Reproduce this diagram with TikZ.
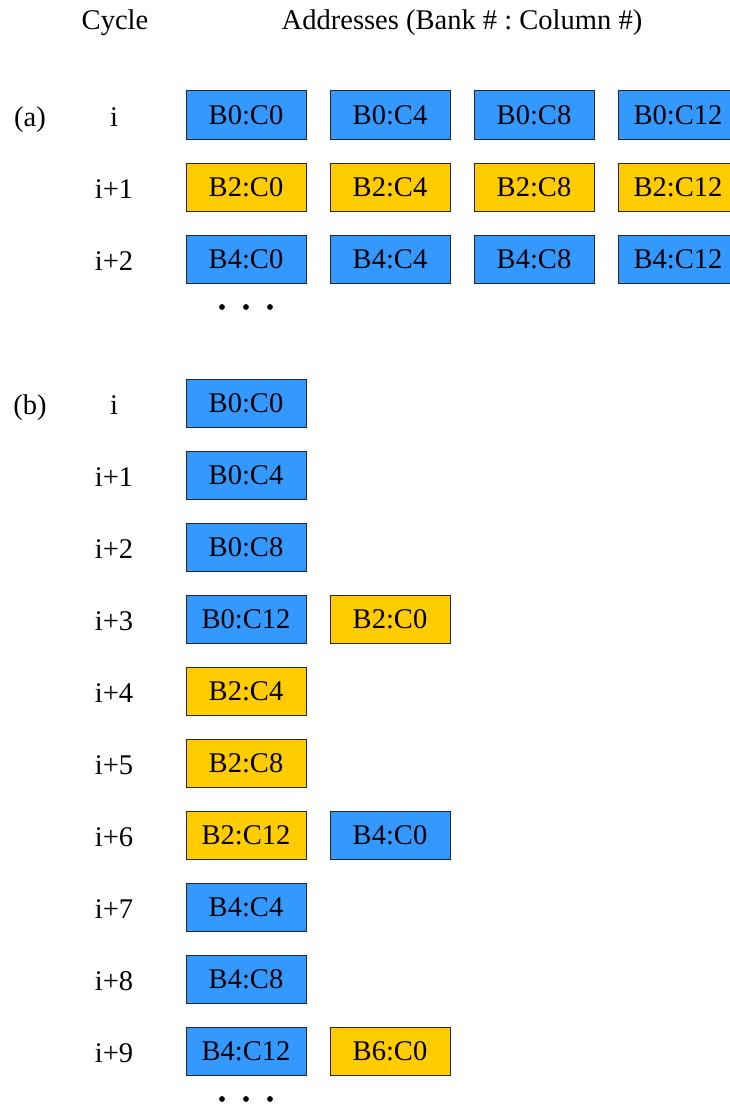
\documentclass[tikz,border=0pt]{standalone}
\usepackage{fontspec}
\setmainfont{Liberation Serif}
\definecolor{bankblue}{RGB}{51,153,255}
\definecolor{bankyellow}{RGB}{255,204,0}
\tikzset{every picture/.style={line width=0.75pt}}
\frenchspacing

\begin{document}
\begin{tikzpicture}[x=0.75pt,y=0.75pt,yscale=-1,xscale=1,
  font=\fontsize{21.4}{25}\selectfont,
  bbox/.style={draw=black!85,line width=0.75pt,minimum width=90pt,minimum height=36pt,inner sep=0pt,anchor=center},
  bblue/.style={bbox,fill=bankblue},
  byellow/.style={bbox,fill=bankyellow},
  lbl/.style={anchor=base,inner sep=0.75pt}]
\useasboundingbox (0,0) rectangle (730,1106);
\clip (0,0) rectangle (730,1106);

% Headers
\node [lbl] (hcyc) at (115,30) {Cycle};
\node [lbl] (haddr) at (462,30) {Addresses (Bank \# : Column \#)};

%(a) ---------------------------------------------
\node [lbl] (pa) at (30,126) {(a)};
\node [lbl] (ca0) at (114,126) {i};
\node [lbl] (ca1) at (114,198) {i+1};
\node [lbl] (ca2) at (114,270) {i+2};

% row i
\node [bblue] (a00) at (246,115) {B0:C0};
\node [bblue] (a01) at (390,115) {B0:C4};
\node [bblue] (a02) at (534,115) {B0:C8};
\node [bblue] (a03) at (678,115) {B0:C12};
% row i+1
\node [byellow] (a10) at (246,187) {B2:C0};
\node [byellow] (a11) at (390,187) {B2:C4};
\node [byellow] (a12) at (534,187) {B2:C8};
\node [byellow] (a13) at (678,187) {B2:C12};
% row i+2
\node [bblue] (a20) at (246,259) {B4:C0};
\node [bblue] (a21) at (390,259) {B4:C4};
\node [bblue] (a22) at (534,259) {B4:C8};
\node [bblue] (a23) at (678,259) {B4:C12};

% dots
\fill (222,307) circle (2.9) (246,307) circle (2.9) (270,307) circle (2.9);

%(b) ---------------------------------------------
\node [lbl] (pb) at (30,414) {(b)};
\node [lbl] (cb0) at (114,414) {i};
\node [lbl] (cb1) at (114,486) {i+1};
\node [lbl] (cb2) at (114,558) {i+2};
\node [lbl] (cb3) at (114,630) {i+3};
\node [lbl] (cb4) at (114,702) {i+4};
\node [lbl] (cb5) at (114,774) {i+5};
\node [lbl] (cb6) at (114,846) {i+6};
\node [lbl] (cb7) at (114,918) {i+7};
\node [lbl] (cb8) at (114,990) {i+8};
\node [lbl] (cb9) at (114,1062) {i+9};

\node [bblue] (b0) at (246,403) {B0:C0};
\node [bblue] (b1) at (246,475) {B0:C4};
\node [bblue] (b2) at (246,547) {B0:C8};
\node [bblue] (b3) at (246,619) {B0:C12};
\node [byellow] (b3x) at (390,619) {B2:C0};
\node [byellow] (b4) at (246,691) {B2:C4};
\node [byellow] (b5) at (246,763) {B2:C8};
\node [byellow] (b6) at (246,835) {B2:C12};
\node [bblue] (b6x) at (390,835) {B4:C0};
\node [bblue] (b7) at (246,907) {B4:C4};
\node [bblue] (b8) at (246,979) {B4:C8};
\node [bblue] (b9) at (246,1051) {B4:C12};
\node [byellow] (b9x) at (390,1051) {B6:C0};

% dots
\fill (222,1099) circle (2.9) (246,1099) circle (2.9) (270,1099) circle (2.9);

\end{tikzpicture}
\end{document}
